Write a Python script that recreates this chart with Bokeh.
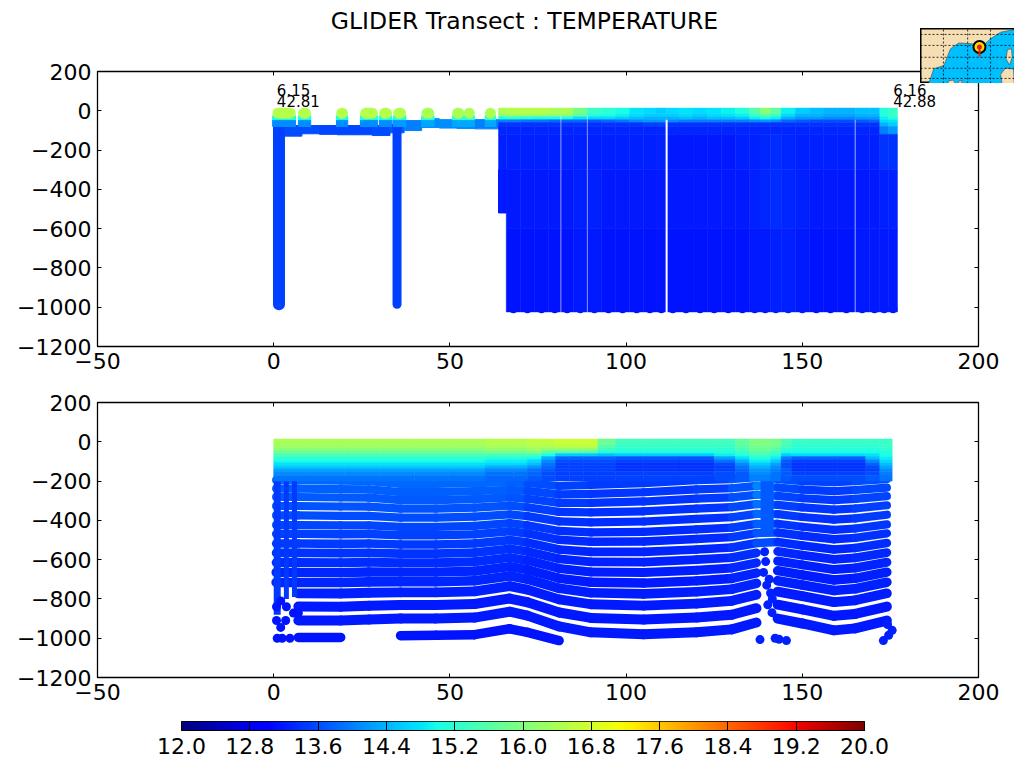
import numpy as np
from bokeh.plotting import figure
from bokeh.layouts import column
from bokeh.models import Range1d, LinearAxis, FixedTicker, LinearColorMapper
from bokeh.embed import file_html
from bokeh.resources import INLINE

FONT = "DejaVu Sans"
TITLE = "GLIDER Transect : TEMPERATURE"
X_TICKS = [-50, 0, 50, 100, 150, 200]
Y_TICKS = [-1200, -1000, -800, -600, -400, -200, 0, 200]
CB_TICKS = [12.0, 12.8, 13.6, 14.4, 15.2, 16.0, 16.8, 17.6, 18.4, 19.2, 20.0]
START_TXT = ["6.15", "42.81"]
END_TXT = ["6.16", "42.88"]

# ---------- upper panel: shallow leg
DIVE_X = [1.5, 35.0]
DIVE_WIDTH_PX = [12, 9]
DIVE_TOP = [-60, -50]
DIVE_BOTTOM = [-985, -985]
DIVE_T = [13.5, 13.5]
CAP_X0 = [-0.3, 7.0, 17.8, 24.6, 30.0, 34.0, 42.0, 50.7, 54.0, 60.0]
CAP_X1 = [6.2, 10.5, 21.0, 29.5, 33.5, 37.5, 45.5, 54.0, 57.0, 63.0]
CAP_T = [16.5, 16.5, 16.5, 16.5, 16.5, 16.5, 16.4, 16.4, 16.4, 16.4]
CAP_MID_T = [15.0, 15.0, 15.0, 15.0, 15.0, 15.0, 15.2, 15.2, 15.2, 15.2]
CAP_LOW_T = [14.1, 14.1, 14.1, 14.1, 14.1, 14.2, 14.3, 14.3, 14.3, 14.3]
SHALLOW_EDGES = [3, 8, 13, 18, 23, 28, 33, 37, 42, 47, 52, 57, 62, 64]
SHALLOW_BOTTOM = [-129, -117, -120, -122, -122, -126, -112, -100, -85, -88, -90, -92, -92]
SHALLOW_TOP = [-75, -75, -75, -75, -75, -75, -70, -50, -40, -45, -45, -45, -45]
SHALLOW_T = [13.6, 13.6, 13.55, 13.55, 13.55, 13.6, 13.7, 14.0, 14.1, 14.1, 14.1, 14.0, 14.0]

# ---------- upper panel: continuous deep leg
TOP_EDGES = [63.8, 66, 70, 74, 78, 81.5, 85, 89, 93, 97, 101, 105, 108.5, 111.5, 115, 119,
             123, 127, 131, 135, 138, 141, 144, 148, 152, 156, 160, 165, 169, 172, 174.5, 177]
TOP_DEPTHS = [14, -15, -30, -45, -60, -80, -120, -300, -600, -1024]
TOP_T0 = [16.4, 16.5, 16.5, 16.5, 16.4, 16.4, 15.9, 15.3, 15.2, 15.0, 14.8, 14.7, 14.6, 14.7, 14.8, 14.7,
          14.8, 14.9, 15.1, 15.6, 16.1, 15.7, 14.9, 14.6, 14.5, 14.4, 14.4, 14.5, 14.5, 15.1, 15.3]
TOP_T1 = [16.2, 16.3, 16.3, 16.3, 16.2, 16.2, 15.7, 15.1, 15.0, 14.9, 14.7, 14.6, 14.6, 14.6, 14.7, 14.6,
          14.7, 14.8, 14.9, 15.3, 15.7, 15.4, 14.7, 14.4, 14.4, 14.3, 14.3, 14.4, 14.4, 15.1, 15.3]
TOP_T2 = [15.0, 15.2, 15.1, 15.0, 15.0, 15.0, 14.8, 14.7, 14.7, 14.6, 14.5, 14.4, 14.4, 14.4, 14.5, 14.4,
          14.5, 14.5, 14.6, 14.9, 15.0, 14.9, 14.4, 14.2, 14.2, 14.1, 14.1, 14.2, 14.2, 14.9, 15.1]
TOP_T3 = [14.0, 14.0, 13.9, 13.9, 13.8, 13.8, 13.8, 13.7, 13.8, 13.9, 14.1, 14.2, 14.2, 14.1, 14.0, 14.0,
          14.0, 14.0, 14.0, 14.1, 14.2, 14.1, 13.8, 13.7, 13.6, 13.6, 13.6, 13.7, 13.8, 14.7, 14.8]
TOP_T4 = [13.4, 13.4, 13.4, 13.4, 13.4, 13.4, 13.4, 13.4, 13.4, 13.4, 13.4, 13.5, 13.5, 13.4, 13.4, 13.4,
          13.4, 13.4, 13.4, 13.4, 13.4, 13.4, 13.4, 13.4, 13.4, 13.4, 13.4, 13.4, 13.4, 14.4, 14.6]
TOP_T5 = [13.3, 13.3, 13.3, 13.3, 13.3, 13.3, 13.3, 13.3, 13.3, 13.3, 13.3, 13.3, 13.3, 13.3, 13.3, 13.3,
          13.3, 13.3, 13.3, 13.3, 13.3, 13.3, 13.3, 13.3, 13.3, 13.3, 13.3, 13.3, 13.3, 14.0, 14.2]
TOP_T6 = [13.25, 13.25, 13.25, 13.25, 13.25, 13.25, 13.25, 13.25, 13.25, 13.25, 13.25, 13.25, 13.25, 13.2, 13.2, 13.2,
          13.2, 13.2, 13.25, 13.25, 13.3, 13.35, 13.3, 13.25, 13.25, 13.25, 13.25, 13.25, 13.25, 13.4, 13.4]
TOP_T7 = [None, 13.2, 13.2, 13.2, 13.2, 13.2, 13.25, 13.25, 13.2, 13.2, 13.2, 13.2, 13.2, 13.2, 13.2, 13.2,
          13.2, 13.2, 13.2, 13.25, 13.3, 13.35, 13.3, 13.25, 13.2, 13.2, 13.2, 13.2, 13.2, 13.25, 13.25]
TOP_T8 = [None, 13.15, 13.15, 13.15, 13.15, 13.15, 13.2, 13.2, 13.15, 13.15, 13.15, 13.15, 13.15, 13.15, 13.15, 13.15,
          13.15, 13.15, 13.15, 13.2, 13.2, 13.25, 13.25, 13.2, 13.15, 13.15, 13.15, 13.2, 13.2, 13.2, 13.2]
STEP_X = [63.8, 66]
STEP_DEPTH = [-300, -520]
STEP_T = [13.2]
GAP_X = [81.5, 89, 111.5, 165]
GAP_TOP = [-25, -25, -45, -45]
GAP_BOTTOM = [-1040, -1040, -1040, -1040]
GAP_ALPHA = [0.55, 0.5, 1.0, 0.6]
GAP_WIDTH = [1, 1, 2, 1]

# ---------- lower panel: upper-layer profiles (warm layer)
LOW_EDGES = [0, 10, 20, 30, 40, 50, 60, 68, 72, 76, 80, 84, 88, 92, 97, 105, 115, 125, 131, 135,
             138, 141, 144, 147, 151, 160, 168, 172, 175.5]
LOW_DEPTHS = [14, -15, -30, -45, -60, -75, -90, -105, -120, -135, -150, -170, -200]
PROFILE_A = [16.4, 16.3, 16.1, 15.8, 15.5, 15.2, 15.0, 14.8, 14.6, 14.3, 14.1, 13.9]
PROFILE_A2 = [16.5, 16.4, 16.2, 15.9, 15.5, 15.1, 14.9, 14.7, 14.4, 14.1, 13.9, 13.8]
PROFILE_B = [16.6, 16.5, 16.3, 16.0, 15.5, 15.0, 14.7, 14.5, 14.2, 13.9, 13.8, 13.7]
PROFILE_C = [16.6, 16.5, 16.2, 15.7, 15.0, 14.4, 14.1, 13.9, 13.8, 13.7, 13.6, 13.6]
PROFILE_D = [16.7, 16.6, 16.2, 15.6, 14.6, 13.8, 13.6, 13.5, 13.5, 13.5, 13.5, 13.5]
PROFILE_E = [15.8, 15.6, 15.4, 15.1, 14.5, 13.8, 13.6, 13.5, 13.5, 13.5, 13.5, 13.5]
PROFILE_F = [15.4, 15.3, 15.2, 15.0, 14.6, 13.7, 13.5, 13.4, 13.4, 13.4, 13.5, 13.5]
PROFILE_G = [15.4, 15.3, 15.2, 15.1, 14.9, 14.3, 13.9, 13.6, 13.5, 13.5, 13.6, 13.6]
PROFILE_H = [15.7, 15.6, 15.5, 15.3, 15.1, 14.8, 14.4, 14.1, 13.9, 13.8, 13.7, 13.7]
PROFILE_I = [16.0, 15.9, 15.8, 15.6, 15.4, 15.1, 14.9, 14.6, 14.4, 14.2, 14.1, 14.0]
PROFILE_J = [15.9, 15.8, 15.6, 15.4, 15.2, 14.9, 14.6, 14.3, 14.1, 14.0, 13.9, 13.9]
PROFILE_K = [15.5, 15.4, 15.2, 15.0, 14.6, 14.0, 13.7, 13.6, 13.6, 13.7, 13.7, 13.7]
PROFILE_L = [15.3, 15.2, 15.1, 15.0, 14.7, 13.8, 13.5, 13.4, 13.4, 13.4, 13.5, 13.6]
PROFILE_M = [15.3, 15.2, 15.1, 15.0, 14.8, 14.5, 14.1, 13.8, 13.6, 13.5, 13.6, 13.7]
PROFILE_N = [15.3, 15.3, 15.2, 15.1, 15.0, 14.9, 14.7, 14.5, 14.3, 14.1, 14.0, 13.9]
LOW_COLUMNS = [PROFILE_A, PROFILE_A, PROFILE_A, PROFILE_A, PROFILE_A, PROFILE_A, PROFILE_A2, PROFILE_A2,
               PROFILE_B, PROFILE_C, PROFILE_D, PROFILE_D, PROFILE_D, PROFILE_E, PROFILE_F, PROFILE_F,
               PROFILE_F, PROFILE_G, PROFILE_H, PROFILE_I, PROFILE_I, PROFILE_J, PROFILE_K, PROFILE_L,
               PROFILE_L, PROFILE_L, PROFILE_M, PROFILE_N]

# ---------- lower panel: isopycnal rows below the warm layer
ROW_BASE = [-195, -238, -281, -327, -375, -424, -469, -518, -566, -615, -665, -716, -772, -839, -910]
ROW_T = [13.8, 13.75, 13.7, 13.65, 13.6, 13.55, 13.5, 13.45, 13.4, 13.35, 13.3, 13.3, 13.25, 13.2, 13.2]
ROW_WIDTH = [8.2, 8.2, 8.2, 8.2, 8.2, 8.2, 8.4, 8.6, 8.8, 9, 9.4, 9.6, 9.8, 10, 10]
ROW_X = [0.7, 7, 19, 27, 36, 46, 57, 67, 72, 81, 90, 105, 120, 130, 137, 143, 150, 159, 165, 174]
SHIFT_UP = [0, 0, 3, 5, 20, 20, 15, 10, 15, 30, 25, 15, 0, -5, -15, -5, 5, 10, 5, -5]
SHIFT_LOW = [0, 0, 0, -5, -10, -10, -15, -45, -25, 30, 60, 70, 60, 45, 10, -10, 15, 50, 40, 0]
SEG_ADJ = [0, 0, 0, 0, 0, 0, 0, -0.05, -0.2, -0.3, -0.35, -0.35, -0.3, -0.1, 0.3, -0.2, -0.3, -0.3, -0.2]
BOTTOM_X = [7, 19, None, 36, 46, 57, 67, 72, 81]
BOTTOM_D = [-996, -996, None, -987, -985, -982, -952, -970, -1012]
LEFT_DOTS_X = [1.0, 2.4, 4.6, 0.8, 2.0, 3.4, 5.6, 7.0, 0.8, 2.0, 3.6]
LEFT_DOTS_D = [-1000, -1000, -1000, -910, -945, -910, -872, -872, -840, -810, -840]
THROAT_X = [139.3, 139.6, 139.0, 140.6, 139.9, 141.0, 141.5, 140.2, 141.4, 138.0, 142.3, 143.4, 145.5,
            173.0, 174.5, 175.5, 174.2]
THROAT_D = [-560, -610, -665, -700, -730, -770, -800, -830, -870, -1007, -1000, -1005, -1012,
            -1012, -985, -960, -930]
LEFT_FILL_X = [1.0, 3.6, 5.9]
LEFT_FILL_BOTTOM = [-880, -800, -790]
LEFT_FILL_WIDTH = [7, 5, 5]
THROAT_FILL_X = [138.3, 141.7]
THROAT_FILL_DEPTH = [-190, -450]
THROAT_FILL_T = [13.7]

# ---------- locator map
MAP_LON = [-2.6, 11.35]
MAP_LAT = [38.5, 45.0]
SEA_LON = [-1.37, -0.63, 0.86, 1.85, 3.08, 5.07, 6.3, 7.79, 9.27, 11.4, 11.4, -1.37]
SEA_LAT = [38.53, 40.24, 40.63, 42.6, 43.3, 43.2, 42.7, 43.78, 44.56, 44.9, 38.5, 38.5]
CORSICA_LON = [10.3, 10.9, 11.0, 10.6, 10.1]
CORSICA_LAT = [42.5, 42.6, 41.6, 40.7, 41.4]
SARDINIA_LON = [9.3, 10.0, 11.2, 11.3, 9.5]
SARDINIA_LAT = [39.6, 40.3, 40.2, 38.5, 38.5]
MALLORCA_LON = [1.4, 2.2, 2.6, 1.6]
MALLORCA_LAT = [38.75, 38.9, 38.5, 38.5]
MENORCA_LON = [3.0, 3.6, 3.5, 3.0]
MENORCA_LAT = [38.75, 38.85, 38.55, 38.55]
GRID_LON = [0.8, 4.4, 7.8]
GRID_LAT = [44.3, 43.0, 41.6, 40.3, 39.1]
GLIDER_LON = [6.15]
GLIDER_LAT = [42.81]
TRACK_LON = [6.15, 6.16]
TRACK_LAT = [42.81, 41.7]

JET_POS = [0.0, 0.11, 0.125, 0.34, 0.35, 0.375, 0.64, 0.65, 0.66, 0.89, 0.91, 1.0]
JET_R = [0, 0, 0, 0, 0, 0.1, 0.96, 0.98, 1, 1, 0.91, 0.5]
JET_G = [0, 0, 0, 0.87, 0.9, 1, 1, 0.97, 0.94, 0.06, 0, 0]
JET_B = [0.5, 0.98, 1, 1, 0.97, 0.9, 0.04, 0, 0, 0, 0, 0]


def jet(t):
    f = (np.atleast_1d(np.asarray(t, dtype=float)) - 12.0) / 8.0
    r = np.interp(f, JET_POS, JET_R)
    g = np.interp(f, JET_POS, JET_G)
    b = np.interp(f, JET_POS, JET_B)
    return ["#%02x%02x%02x" % (int(a * 255), int(c * 255), int(d * 255)) for a, c, d in zip(r, g, b)]


def panel(height, top, bottom):
    p = figure(frame_width=881, frame_height=275, height=height, width=1006, toolbar_location=None,
               output_backend="svg", x_range=Range1d(-50, 200), y_range=Range1d(-1200, 200),
               min_border_left=97, min_border_right=28, min_border_top=top, min_border_bottom=bottom,
               x_axis_type=None, y_axis_type=None, background_fill_color="white", frame_align=False)
    p.grid.visible = False
    p.outline_line_color = "black"
    p.outline_line_width = 1.3
    xover = {v: str(v).replace("-", "\u2212") for v in X_TICKS}
    yover = {v: str(v).replace("-", "\u2212") for v in Y_TICKS}
    for loc, ticks, over, show in [("below", X_TICKS, xover, True), ("left", Y_TICKS, yover, True),
                                   ("above", X_TICKS, {v: "" for v in X_TICKS}, False),
                                   ("right", Y_TICKS, {v: "" for v in Y_TICKS}, False)]:
        ax = LinearAxis(ticker=FixedTicker(ticks=ticks), major_label_overrides=over,
                        major_tick_in=4, major_tick_out=0, minor_tick_in=0, minor_tick_out=0,
                        major_tick_line_color="black", axis_line_color="black",
                        major_label_text_font=FONT, major_label_text_color="black",
                        major_label_text_font_size="22px" if show else "1px",
                        major_label_standoff=6 if show else 0)
        p.add_layout(ax, loc)
    return p


def cells(p, edges, depths, rows):
    l, r, tp, bt, c = [], [], [], [], []
    for i, row in enumerate(rows):
        for j, t in enumerate(row):
            if t is None:
                continue
            l.append(edges[j]); r.append(edges[j + 1])
            tp.append(depths[i]); bt.append(depths[i + 1]); c.append(jet(t)[0])
    p.quad(left=l, right=r, top=tp, bottom=bt, fill_color=c, line_color=c, line_width=0.5)


# ---------- upper panel
p1 = panel(374, 71, 28)
p1.quad(left=SHALLOW_EDGES[:-1], right=SHALLOW_EDGES[1:], top=SHALLOW_TOP, bottom=SHALLOW_BOTTOM,
        fill_color=jet(SHALLOW_T), line_color=jet(SHALLOW_T), line_width=1)
p1.segment(x0=DIVE_X, x1=DIVE_X, y0=DIVE_TOP, y1=DIVE_BOTTOM, line_width=DIVE_WIDTH_PX,
           line_color=jet(DIVE_T), line_cap="round")
p1.quad(left=CAP_X0, right=CAP_X1, top=[-45] * 10, bottom=[-80] * 10,
        fill_color=jet(CAP_LOW_T), line_color=jet(CAP_LOW_T))
p1.quad(left=CAP_X0, right=CAP_X1, top=[-25] * 10, bottom=[-45] * 10,
        fill_color=jet(CAP_MID_T), line_color=jet(CAP_MID_T))
p1.segment(x0=[a + 1.5 for a in CAP_X0], x1=[b - 1.5 for b in CAP_X1], y0=[-12] * 10, y1=[-12] * 10,
           line_width=11, line_color=jet(CAP_T), line_cap="round")
TOP_ROWS = [TOP_T0, TOP_T1, TOP_T2, TOP_T3, TOP_T4, TOP_T5, TOP_T6, TOP_T7, TOP_T8]
cells(p1, TOP_EDGES, TOP_DEPTHS, TOP_ROWS)
p1.quad(left=[STEP_X[0]], right=[STEP_X[1]], top=[STEP_DEPTH[0]], bottom=[STEP_DEPTH[1]],
        fill_color=jet(STEP_T), line_color=jet(STEP_T))
centres = [(a + b) / 2 for a, b in zip(TOP_EDGES[1:-1], TOP_EDGES[2:])]
p1.scatter(x=centres, y=[-1008] * len(centres), size=9, marker="circle",
           fill_color=jet(TOP_T8[1:]), line_color=None)
p1.segment(x0=GAP_X, x1=GAP_X, y0=GAP_TOP, y1=GAP_BOTTOM, line_color="white",
           line_alpha=GAP_ALPHA, line_width=GAP_WIDTH)
for x_, txt in [(0.9, START_TXT), (175.8, END_TXT)]:
    p1.text(x=[x_, x_], y=[108, 48], text=txt, text_font={"value": FONT}, text_font_size={"value": "15px"},
            text_baseline="middle", text_align="left", text_color="black")

# ---------- lower panel
p2 = panel(332, 28, 29)
sx0, sx1, sy0, sy1, sc, sw = [], [], [], [], [], []
for r in range(len(ROW_BASE) - 1, -1, -1):
    w = r / (len(ROW_BASE) - 1)
    d = [ROW_BASE[r] - (u * (1 - w) + l_ * w) for u, l_ in zip(SHIFT_UP, SHIFT_LOW)]
    for j in range(len(ROW_X) - 1):
        if r >= 12 and j == 0:
            continue
        if r >= 8 and ROW_X[j] == 137:
            continue
        sx0.append(ROW_X[j]); sx1.append(ROW_X[j + 1]); sy0.append(d[j]); sy1.append(d[j + 1])
        sc.append(jet(ROW_T[r] + SEG_ADJ[j] * (1 - w))[0]); sw.append(ROW_WIDTH[r])
p2.segment(x0=sx0, x1=sx1, y0=sy0, y1=sy1, line_color=sc, line_width=sw, line_cap="round")
seg = [(BOTTOM_X[i], BOTTOM_X[i + 1], BOTTOM_D[i], BOTTOM_D[i + 1]) for i in range(len(BOTTOM_X) - 1)
       if BOTTOM_X[i] is not None and BOTTOM_X[i + 1] is not None]
p2.segment(x0=[s[0] for s in seg], x1=[s[1] for s in seg], y0=[s[2] for s in seg], y1=[s[3] for s in seg],
           line_color=jet(13.15)[0], line_width=9.5, line_cap="round")
p2.segment(x0=LEFT_FILL_X, x1=LEFT_FILL_X, y0=[-190] * 3, y1=LEFT_FILL_BOTTOM, line_width=LEFT_FILL_WIDTH,
           line_color=jet(13.45)[0])
p2.scatter(x=LEFT_DOTS_X, y=LEFT_DOTS_D, size=9, marker="circle", fill_color=jet(13.15)[0], line_color=None)
p2.scatter(x=THROAT_X, y=THROAT_D, size=9, marker="circle", fill_color=jet(13.25)[0], line_color=None)
p2.quad(left=[THROAT_FILL_X[0]], right=[THROAT_FILL_X[1]], top=[THROAT_FILL_DEPTH[0]], bottom=[THROAT_FILL_DEPTH[1]],
        fill_color=jet(THROAT_FILL_T), line_color=jet(THROAT_FILL_T))
cells(p2, LOW_EDGES, LOW_DEPTHS, [[c[i] for c in LOW_COLUMNS] for i in range(len(LOW_DEPTHS) - 1)])

# ---------- colour bar
gradient = np.linspace(12, 20, 256).reshape(1, 256)
mapper = LinearColorMapper(palette=jet(np.linspace(12, 20, 256)), low=12, high=20)
p3 = figure(frame_width=683, frame_height=9, height=53, width=1006, toolbar_location=None, output_backend="svg",
            x_range=Range1d(12, 20), y_range=Range1d(0, 1), x_axis_type=None, y_axis_type=None,
            min_border_left=181, min_border_right=142, min_border_top=15, min_border_bottom=21, frame_align=False)
p3.grid.visible = False
p3.outline_line_color = "black"
p3.image(image=[gradient], x=12, y=0, dw=8, dh=1, color_mapper=mapper)
p3.add_layout(LinearAxis(ticker=FixedTicker(ticks=CB_TICKS),
                         major_label_overrides={v: "%.1f" % v for v in CB_TICKS},
                         major_tick_in=9, major_tick_out=0, minor_tick_in=0, minor_tick_out=0,
                         major_tick_line_color="black", major_label_text_font=FONT,
                         major_label_text_font_size="22px", major_label_text_color="black",
                         major_label_standoff=7), "below")

# ---------- locator map
m = figure(width=94, height=55, toolbar_location=None, output_backend="svg", x_range=Range1d(*MAP_LON),
           y_range=Range1d(*MAP_LAT), x_axis_type=None, y_axis_type=None, min_border=0, frame_align=False,
           background_fill_color="#f5deb3", styles={"position": "absolute", "left": "920px", "top": "28px", "z-index": "5"})
m.grid.visible = False
m.outline_line_color = "black"
m.outline_line_width = 2
m.patch(SEA_LON, SEA_LAT, fill_color="#00bfff", line_color="#333333", line_width=0.5)
m.patches([CORSICA_LON, SARDINIA_LON, MALLORCA_LON, MENORCA_LON], [CORSICA_LAT, SARDINIA_LAT, MALLORCA_LAT, MENORCA_LAT],
          fill_color="#f5deb3", line_color="#333333", line_width=0.5)
m.segment(x0=GRID_LON, x1=GRID_LON, y0=[MAP_LAT[0]] * 3, y1=[MAP_LAT[1]] * 3, line_color="black", line_dash="2 2", line_width=0.8)
m.segment(x0=[MAP_LON[0]] * 5, x1=[MAP_LON[1]] * 5, y0=GRID_LAT, y1=GRID_LAT, line_color="black", line_dash="2 2", line_width=0.8)
m.scatter(x=GLIDER_LON, y=GLIDER_LAT, size=12, marker="circle", fill_color="#ffd800", line_color="black", line_width=2)
m.scatter(x=GLIDER_LON, y=GLIDER_LAT, size=5, marker="circle", fill_color="#e02020", line_color=None)
m.line(x=TRACK_LON, y=TRACK_LAT, line_color="#e02020", line_width=2)

# ---------- title, placed like the map
t = figure(width=500, height=30, toolbar_location=None, output_backend="svg", x_range=Range1d(0, 1),
           y_range=Range1d(0, 1), x_axis_type=None, y_axis_type=None, min_border=0, frame_align=False,
           outline_line_color=None, styles={"position": "absolute", "left": "274px", "top": "5px", "z-index": "4"})
t.grid.visible = False
t.text(x=[0.5], y=[0.5], text=[TITLE], text_font={"value": FONT}, text_font_size={"value": "23.5px"},
       text_align="center", text_baseline="middle", text_color="black")

page = column(p1, p2, p3, t, m, spacing=0)
open("out.html", "w").write(file_html(page, INLINE))
